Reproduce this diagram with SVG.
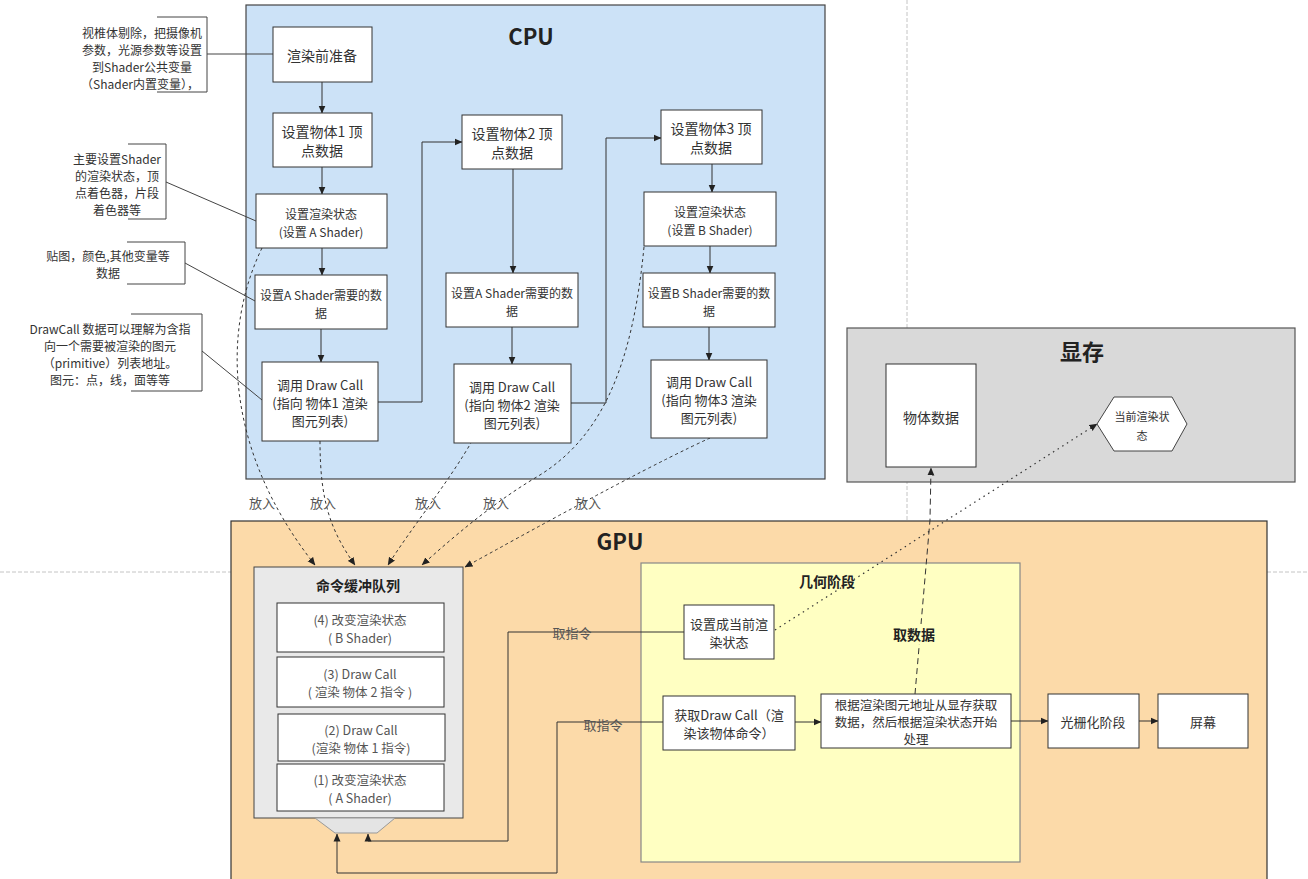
<svg xmlns="http://www.w3.org/2000/svg" width="1308" height="879" viewBox="0 0 1308 879">
<defs>
<marker id="arr" markerUnits="userSpaceOnUse" markerWidth="8" markerHeight="8" refX="7.5" refY="4" orient="auto">
<path d="M0,0.5 L8,4 L0,7.5 z" fill="#222" stroke="none"/>
</marker>
</defs>
<style>
text{font-family:"Noto Sans CJK SC","Microsoft YaHei",sans-serif;fill:#333;text-anchor:middle;dominant-baseline:central}
.box{fill:#fff;stroke:#333;stroke-width:1}
.t14{font-size:14px}
.t13{font-size:13px}
.t12{font-size:12px}
.title{font-size:22px;font-weight:bold;fill:#222}
.bold14{font-size:14px;font-weight:bold;fill:#222}
.q{font-size:12.5px;fill:#555}
.ln{fill:none;stroke:#333;stroke-width:1}
.ann{fill:none;stroke:#444;stroke-width:1}
.dash{fill:none;stroke:#333;stroke-width:1;stroke-dasharray:3 3}
.lbl{font-size:13px;fill:#555}
.guide{stroke:#c4c4c4;stroke-width:1;stroke-dasharray:4 2;fill:none}
</style>

<g id="guides">
<path class="guide" d="M907,0 V521"/>
<path class="guide" d="M0,572 H231 M1267,572 H1308"/>
</g>

<g id="cpu">
<rect x="246" y="5" width="579" height="474" fill="#cce2f7" stroke="#444" stroke-width="1.2"/>
<text class="title" x="531" y="35">CPU</text>
</g>

<g id="vram">
<rect x="847" y="328" width="448" height="154" fill="#d9d9d9" stroke="#555" stroke-width="1.2"/>
<text class="title" x="1082" y="350">显存</text>
</g>

<g id="gpu">
<rect x="231" y="521" width="1036" height="370" fill="#fcdaa9" stroke="#333" stroke-width="1.2"/>
<text class="title" x="620" y="540">GPU</text>
</g>

<g id="geometry">
<rect x="641" y="563" width="379" height="299" fill="#ffffc2" stroke="#888" stroke-width="1.2"/>
<text class="bold14" x="827" y="581">几何阶段</text>
</g>

<g id="queue">
<rect x="254" y="567" width="209" height="251" fill="#e9e9e9" stroke="#444" stroke-width="1"/>
<polygon points="315,818 395,818 377,833 335,833" fill="#e4e4e4" stroke="#999" stroke-width="1"/>
<text class="bold14" x="358" y="585">命令缓冲队列</text>
</g>

<g id="connectors">
<path class="ln" d="M322,82 V113" marker-end="url(#arr)"/>
<path class="ln" d="M322,167 V194" marker-end="url(#arr)"/>
<path class="ln" d="M322,248 V275" marker-end="url(#arr)"/>
<path class="ln" d="M321,329 V362" marker-end="url(#arr)"/>
<path class="ln" d="M378,402 H422 V142 H462" marker-end="url(#arr)"/>
<path class="ln" d="M513,169 V273" marker-end="url(#arr)"/>
<path class="ln" d="M512,327 V364" marker-end="url(#arr)"/>
<path class="ln" d="M571,403 H606 V138 H661" marker-end="url(#arr)"/>
<path class="ln" d="M712,164 V192" marker-end="url(#arr)"/>
<path class="ln" d="M710,246 V273" marker-end="url(#arr)"/>
<path class="ln" d="M709,327 V360" marker-end="url(#arr)"/>
<path class="ann" d="M157,17 H207 V92 H157 M207,54 H273"/>
<path class="ann" d="M128,144 H166 V219 H128 M166,182 L256,221"/>
<path class="ann" d="M127,242 H185 V284 H127 M185,263 L255,301"/>
<path class="ann" d="M131,314 H202 V391 H131 M202,351 L262,400"/>
<path class="dash" d="M262,248 C222,330 224,450 315,565" marker-end="url(#arr)"/>
<path class="dash" d="M320,441 C320,500 330,530 355,565" marker-end="url(#arr)"/>
<path class="dash" d="M472,441 C450,480 410,530 388,565" marker-end="url(#arr)"/>
<path class="dash" d="M644,247 C632,370 600,440 535,478 C490,505 450,540 422,565" marker-end="url(#arr)"/>
<path class="dash" d="M710,438 Q640,470 465,567" marker-end="url(#arr)"/>
<path class="ln" d="M684,632 H508 V841 H368 V834" marker-end="url(#arr)"/>
<path class="ln" d="M663,722 H557 V873 H337 V834" marker-end="url(#arr)"/>
<path class="ln" d="M795,722 H821" marker-end="url(#arr)"/>
<path class="ln" d="M1011,721 H1048" marker-end="url(#arr)"/>
<path class="ln" d="M1139,721 H1158" marker-end="url(#arr)"/>
<path fill="none" stroke="#333" stroke-width="1" stroke-dasharray="6 4" d="M915,694 L930,520 L931,468" marker-end="url(#arr)"/>
<path fill="none" stroke="#333" stroke-width="1.2" stroke-dasharray="1.5 4" d="M775,630 L1097,424" marker-end="url(#arr)"/>
</g>

<g id="labels">
<rect x="896" y="624" width="38" height="20" fill="#ffffc2"/>
<text class="bold14" x="914" y="634">取数据</text>
<text class="lbl" x="262" y="502">放入</text>
<text class="lbl" x="323" y="502">放入</text>
<text class="lbl" x="428" y="502">放入</text>
<text class="lbl" x="496" y="502">放入</text>
<text class="lbl" x="588" y="502">放入</text>
<text class="lbl" x="572" y="632">取指令</text>
<text class="lbl" x="603" y="724">取指令</text>
</g>

<g id="note1">
<text class="t12"><tspan x="142" y="32">视椎体剔除，把摄像机</tspan><tspan x="142" y="49">参数，光源参数等设置</tspan><tspan x="142" y="66">到Shader公共变量</tspan><tspan x="140" y="83">（Shader内置变量），</tspan></text>
</g>
<g id="note2">
<text class="t12"><tspan x="117" y="158">主要设置Shader</tspan><tspan x="117" y="175">的渲染状态，顶</tspan><tspan x="117" y="192">点着色器，片段</tspan><tspan x="117" y="209">着色器等</tspan></text>
</g>
<g id="note3">
<text class="t12"><tspan x="108" y="255">贴图，颜色,其他变量等</tspan><tspan x="108" y="272">数据</tspan></text>
</g>
<g id="note4">
<text class="t12"><tspan x="110" y="328">DrawCall 数据可以理解为含指</tspan><tspan x="110" y="345">向一个需要被渲染的图元</tspan><tspan x="110" y="362">（primitive）列表地址。</tspan><tspan x="110" y="379">图元：点，线，面等等</tspan></text>
</g>

<g id="prep"><rect class="box" x="273" y="27" width="99" height="55"/><text class="t14" x="322" y="55">渲染前准备</text></g>
<g id="obj1"><rect class="box" x="273" y="113" width="99" height="54"/><text class="t14"><tspan x="322" y="131">设置物体1 顶</tspan><tspan x="322" y="150">点数据</tspan></text></g>
<g id="stateA"><rect class="box" x="256" y="194" width="131" height="54"/><text class="t12"><tspan x="321" y="213">设置渲染状态</tspan><tspan x="321" y="231">(设置 A Shader)</tspan></text></g>
<g id="dataA1"><rect class="box" x="255" y="275" width="132" height="54"/><text class="t12"><tspan x="321" y="294">设置A Shader需要的数</tspan><tspan x="321" y="312">据</tspan></text></g>
<g id="dc1"><rect class="box" x="262" y="362" width="116" height="79"/><text class="t13"><tspan x="320" y="384">调用 Draw Call</tspan><tspan x="320" y="402">(指向 物体1 渲染</tspan><tspan x="320" y="420">图元列表)</tspan></text></g>

<g id="obj2"><rect class="box" x="462" y="115" width="100" height="54"/><text class="t14"><tspan x="512" y="133">设置物体2 顶</tspan><tspan x="512" y="152">点数据</tspan></text></g>
<g id="dataA2"><rect class="box" x="446" y="273" width="132" height="54"/><text class="t12"><tspan x="512" y="292">设置A Shader需要的数</tspan><tspan x="512" y="310">据</tspan></text></g>
<g id="dc2"><rect class="box" x="454" y="364" width="117" height="79"/><text class="t13"><tspan x="512" y="386">调用 Draw Call</tspan><tspan x="512" y="404">(指向 物体2 渲染</tspan><tspan x="512" y="422">图元列表)</tspan></text></g>

<g id="obj3"><rect class="box" x="661" y="110" width="101" height="54"/><text class="t14"><tspan x="711" y="128">设置物体3 顶</tspan><tspan x="711" y="147">点数据</tspan></text></g>
<g id="stateB"><rect class="box" x="644" y="192" width="132" height="54"/><text class="t12"><tspan x="710" y="211">设置渲染状态</tspan><tspan x="710" y="229">(设置 B Shader)</tspan></text></g>
<g id="dataB"><rect class="box" x="643" y="273" width="132" height="54"/><text class="t12"><tspan x="709" y="292">设置B Shader需要的数</tspan><tspan x="709" y="310">据</tspan></text></g>
<g id="dc3"><rect class="box" x="651" y="360" width="116" height="78"/><text class="t13"><tspan x="709" y="381">调用 Draw Call</tspan><tspan x="709" y="399">(指向 物体3 渲染</tspan><tspan x="709" y="417">图元列表)</tspan></text></g>

<g id="q4"><rect class="box" x="277" y="603" width="167" height="49"/><text class="q"><tspan x="360" y="619">(4) 改变渲染状态</tspan><tspan x="360" y="637">( B Shader)</tspan></text></g>
<g id="q3"><rect class="box" x="277" y="657" width="167" height="50"/><text class="q"><tspan x="360" y="673">(3) Draw Call</tspan><tspan x="360" y="691">( 渲染 物体 2 指令 )</tspan></text></g>
<g id="q2"><rect class="box" x="278" y="714" width="167" height="47"/><text class="q"><tspan x="361" y="729">(2) Draw Call</tspan><tspan x="361" y="747">(渲染 物体 1 指令)</tspan></text></g>
<g id="q1"><rect class="box" x="277" y="764" width="167" height="47"/><text class="q"><tspan x="360" y="779">(1) 改变渲染状态</tspan><tspan x="360" y="797">( A Shader)</tspan></text></g>

<g id="setcur"><rect class="box" x="684" y="605" width="90" height="54"/><text class="t13"><tspan x="729" y="623">设置成当前渲</tspan><tspan x="729" y="641">染状态</tspan></text></g>
<g id="getdc"><rect class="box" x="663" y="696" width="132" height="54"/><text class="t13"><tspan x="729" y="714">获取Draw Call（渲</tspan><tspan x="729" y="732">染该物体命令）</tspan></text></g>
<g id="fetch"><rect class="box" x="821" y="694" width="190" height="54"/><text style="font-size:12.5px"><tspan x="916" y="704">根据渲染图元地址从显存获取</tspan><tspan x="916" y="721">数据，然后根据渲染状态开始</tspan><tspan x="916" y="738">处理</tspan></text></g>
<g id="raster"><rect class="box" x="1048" y="694" width="91" height="54"/><text class="t13" x="1093" y="721">光栅化阶段</text></g>
<g id="screen"><rect class="box" x="1158" y="694" width="90" height="54"/><text class="t13" x="1203" y="721">屏幕</text></g>

<g id="objdata"><rect class="box" x="886" y="364" width="90" height="103"/><text class="t14" x="931" y="417">物体数据</text></g>
<g id="curstate"><polygon points="1097,424 1114,397 1172,397 1187,424 1172,451 1114,451" fill="#fff" stroke="#444" stroke-width="1"/><text style="font-size:11px"><tspan x="1142" y="416">当前渲染状</tspan><tspan x="1142" y="435">态</tspan></text></g>
</svg>
